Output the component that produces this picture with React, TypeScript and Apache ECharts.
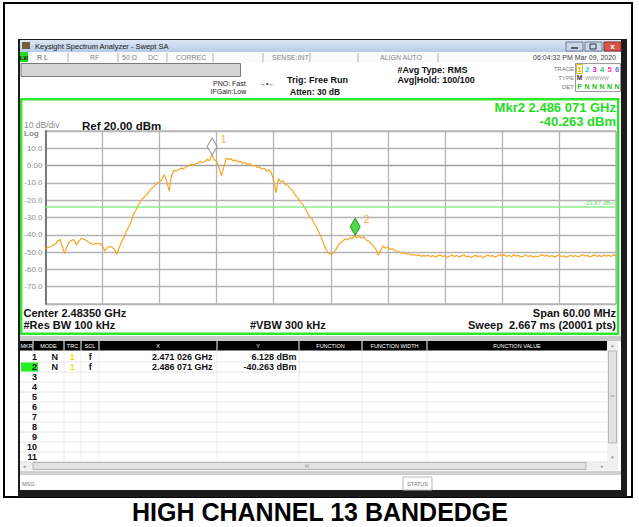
import React, { useEffect, useRef } from "react";
import * as echarts from "echarts";

// ---- data ----
const centerGHz = 2.4835;
const spanMHz = 60;
const startOffsetMHz = 0;
const sweepStepMHz = 0.25;
const refLevel = 20;
const bottomLevel = -80;
const yTickLabels = ["10.0", "0.00", "-10.0", "-20.0", "-30.0", "-40.0", "-50.0", "-60.0", "-70.0"];
const displayLine = -23.87;

// trace 1 level (dBm), one value every sweepStepMHz from the start frequency
const traceLevels = [
  -48.0, -47.4, -46.8, -46.2, -45.5, -44.0, -42.6, -46.5, -50.9, -47.0, -44.0, -43.2, -42.8, -45.8, -44.0, -42.0,
  -42.5, -43.2, -44.2, -44.8, -45.6, -45.0, -45.3, -45.0, -46.5, -49.4, -47.5, -46.8, -47.2, -48.5, -51.3, -47.5,
  -44.0, -41.5, -38.0, -35.5, -32.5, -28.0, -26.0, -22.5, -20.8, -19.0, -17.5, -16.0, -14.2, -12.8, -11.6, -10.0,
  -9.5, -7.8, -5.2, -9.0, -14.8, -6.0, -2.8, -3.0, -2.4, -1.5, -1.9, -0.8, -0.5, 0.8, 0.2, 1.0,
  1.2, 2.6, 1.8, 2.2, 3.6, 2.8, 6.1, 3.5, 2.5, -1.5, -5.8, -1.0, 4.4, 3.6, 4.0, 2.8,
  3.2, 2.0, 2.5, 1.2, 1.8, 0.6, 1.2, -0.2, 0.2, -1.0, -0.8, -2.0, -1.5, -3.2, -2.5, -4.0,
  -9.0, -15.7, -7.5, -9.5, -8.8, -11.0, -11.5, -13.5, -14.5, -17.0, -18.4, -20.5, -22.0, -24.2, -26.5, -29.5,
  -30.5, -33.5, -35.5, -38.5, -41.5, -45.0, -48.5, -50.5, -51.3, -50.6, -49.0, -46.5, -44.6, -43.8, -42.4, -43.0,
  -41.6, -42.2, -40.3, -41.8, -40.8, -42.0, -41.2, -43.0, -43.8, -45.0, -46.5, -48.5, -51.7, -49.0, -46.5, -47.8,
  -47.2, -48.4, -48.0, -49.2, -49.5, -50.0, -50.8, -50.4, -51.2, -51.0, -51.8, -51.4, -52.0, -51.6, -52.4, -52.0,
  -52.3, -51.8, -52.6, -52.0, -52.9, -52.2, -51.6, -52.5, -52.1, -53.0, -52.4, -51.7, -52.6, -52.0, -52.8, -52.2,
  -51.5, -52.7, -52.3, -53.1, -52.4, -51.9, -52.6, -52.1, -53.2, -52.5, -51.7, -52.4, -52.0, -52.9, -52.3, -51.4,
  -52.2, -51.6, -52.5, -51.8, -52.7, -51.5, -52.3, -51.9, -52.8, -52.4, -51.6, -52.6, -52.0, -53.0, -52.3, -52.7,
  -52.1, -51.6, -52.4, -51.8, -52.6, -52.0, -52.9, -52.3, -51.7, -52.5, -52.1, -53.0, -52.4, -51.8, -52.6, -52.0,
  -52.7, -52.2, -51.5, -52.3, -51.9, -52.8, -52.2, -51.6, -52.5, -51.9, -52.6, -51.7, -52.3, -51.8, -52.5, -51.6,
  -52.2,
];

const markerNames = ["1", "2"];
const markerFreqGHz = [2.471026, 2.486071];
const markerLevels = [6.128, -40.263];
const markerXText = ["2.471 026 GHz", "2.486 071 GHz"];
const markerYText = ["6.128 dBm", "-40.263 dBm"];
const tableRows = ["1", "2", "3", "4", "5", "6", "7", "8", "9", "10", "11"];

const F = '"Liberation Sans", Arial, sans-serif';

function txt(text: string, x: number, y: number, opts: any = {}) {
  const align = opts.align || "left";
  return {
    type: "text",
    z: opts.z ?? 20,
    style: {
      text,
      x,
      y,
      font: `${opts.bold ? "bold " : ""}${opts.size || 8}px ${F}`,
      fill: opts.color || "#000",
      align,
      textAlign: align,
      verticalAlign: "middle",
      textVerticalAlign: "middle",
    },
  };
}
function rect(x: number, y: number, w: number, h: number, fill: string, stroke?: string, lw = 1, z = 0) {
  return {
    type: "rect",
    z,
    shape: { x, y, width: w, height: h },
    style: { fill, stroke: stroke || "none", lineWidth: lw },
  };
}
function ln(x1: number, y1: number, x2: number, y2: number, stroke: string, lw = 1, z = 5) {
  return { type: "line", z, shape: { x1, y1, x2, y2 }, style: { stroke, lineWidth: lw } };
}

export default function App() {
  const ref = useRef<HTMLDivElement>(null);
  useEffect(() => {
    document.body.style.margin = "0";
    const chart = echarts.init(ref.current!, undefined, { renderer: "svg" });
    const startGHz = centerGHz - spanMHz / 2000;
    const traceData = traceLevels.map((v, i) => [startOffsetMHz + i * sweepStepMHz, v]);
    const markerData = markerFreqGHz.map((f, i) => [(f - startGHz) * 1000, markerLevels[i]]);

    const g: any[] = [];
    // outer document frame
    g.push(rect(4, 3, 628, 494, "#fff", "#000", 2, -30));
    // analyzer window
    g.push(rect(18, 39, 609, 458, "#1c1c1c", undefined, 1, -29));
    g.push({
      type: "rect",
      z: -28,
      shape: { x: 20, y: 40, width: 601, height: 12 },
      style: {
        fill: new echarts.graphic.LinearGradient(0, 0, 0, 1, [
          { offset: 0, color: "#dce7f5" },
          { offset: 1, color: "#b7cbe6" },
        ]),
      },
    });
    g.push(rect(22, 42, 8, 7, "#6f5f38", undefined, 1, -27));
    g.push(txt("Keysight Spectrum Analyzer - Swept SA", 35, 46.5, { size: 7.5, color: "#1a1a1a" }));
    g.push(rect(566, 42, 17, 9, "#c9d6e8", "#6e7f99", 1, -27));
    g.push(ln(571, 48, 578, 48, "#334", 1.5, 10));
    g.push(rect(585, 42, 17, 9, "#c9d6e8", "#6e7f99", 1, -27));
    g.push(rect(590, 44, 6, 5, "none", "#334", 1, 10));
    g.push(rect(604, 42, 17, 9, "#d9574a", "#8a2a20", 1, -27));
    g.push(txt("x", 612.5, 46, { size: 8, color: "#fff", align: "center", bold: true }));
    // status row
    g.push(rect(20, 52, 601, 11, "#fafafa", undefined, 1, -27));
    g.push(rect(20, 52, 8, 10, "#22dd22", undefined, 1, -26));
    g.push(txt("LXI", 24, 57.5, { size: 5, color: "#000", align: "center", bold: true }));
    [68, 118, 167, 213, 263, 310, 358, 438].forEach((x) => g.push(ln(x, 53, x, 62, "#b0b0b0", 1, -25)));
    g.push(txt("R L", 37, 57.5, { size: 7, color: "#666" }));
    g.push(txt("RF", 90, 57.5, { size: 7, color: "#888" }));
    g.push(txt("50 Ω", 122, 57.5, { size: 7, color: "#888" }));
    g.push(txt("DC", 148, 57.5, { size: 7, color: "#888" }));
    g.push(txt("CORREC", 176, 57.5, { size: 7, color: "#888" }));
    g.push(txt("SENSE:INT", 272, 57.5, { size: 7, color: "#888" }));
    g.push(txt("ALIGN AUTO", 380, 57.5, { size: 7, color: "#888" }));
    g.push(txt("06:04:32 PM Mar 09, 2020", 616, 57.5, { size: 7, color: "#444", align: "right" }));
    // settings area
    g.push(rect(20, 63, 601, 35, "#fff", undefined, 1, -27));
    g.push(rect(21, 63.5, 219.5, 13, "#d4d4d4", "#7a7a7a", 1, -26));
    g.push(txt("PNO: Fast", 213, 83.5, { size: 7, color: "#222" }));
    g.push(txt("IFGain:Low", 210.5, 91.8, { size: 7, color: "#222" }));
    g.push(txt("→•←", 259, 83, { size: 7, color: "#333" }));
    g.push(txt("Trig: Free Run", 287, 80, { size: 9, bold: true, color: "#111" }));
    g.push(txt("Atten: 30 dB", 290, 91.5, { size: 8.5, bold: true, color: "#111" }));
    g.push(txt("#Avg Type: RMS", 397.5, 70, { size: 9, bold: true, color: "#111" }));
    g.push(txt("Avg|Hold: 100/100", 397.5, 80, { size: 9, bold: true, color: "#111" }));
    g.push(txt("TRACE", 574, 69.3, { size: 6, color: "#777", align: "right" }));
    g.push(txt("TYPE", 574, 77.8, { size: 6, color: "#777", align: "right" }));
    g.push(txt("DET", 574, 86.7, { size: 6, color: "#777", align: "right" }));
    g.push(rect(575.5, 63.5, 45, 28, "#fff", "#999", 1, -26));
    g.push(rect(576.5, 64.5, 6, 9, "#fff", "#e0c000", 1, -25));
    const tcol = ["#e0b800", "#20c8e8", "#e020e0", "#30c870", "#ff4090", "#7a5cff"];
    ["1", "2", "3", "4", "5", "6"].forEach((s, i) =>
      g.push(txt(s, 579.5 + i * 7.5, 69.3, { size: 7.5, color: tcol[i], align: "center", bold: true }))
    );
    g.push(txt("M", 579.5, 77.8, { size: 6.5, color: "#333", align: "center", bold: true }));
    g.push(txt("WWWWW", 585, 77.8, { size: 5, color: "#999" }));
    g.push(txt("P", 579.5, 86.7, { size: 7, color: "#22bb22", align: "center", bold: true }));
    ["N", "N", "N", "N", "N"].forEach((s, i) =>
      g.push(txt(s, 587 + i * 7.5, 86.7, { size: 7, color: "#22bb22", align: "center", bold: true }))
    );
    // plot panel
    g.push(rect(20, 98, 601, 238, "#fff", undefined, 1, -27));
    g.push(rect(21.2, 99.2, 597, 234.5, "#fff", "#2ee82e", 2.4, -26));
    g.push(txt("Mkr2 2.486 071 GHz", 616, 107.5, { size: 13, bold: true, color: "#22dd22", align: "right" }));
    g.push(txt("-40.263 dBm", 616, 121.5, { size: 13, bold: true, color: "#22dd22", align: "right" }));
    g.push(txt("10 dB/div", 24, 125, { size: 8.5, color: "#8a8a8a" }));
    g.push(txt("Log", 24, 133.5, { size: 8, color: "#8a8a8a", bold: true }));
    g.push(txt("Ref 20.00 dBm", 82, 125.5, { size: 11.5, bold: true, color: "#111" }));
    g.push(txt("Center 2.48350 GHz", 23.5, 312.5, { size: 11, bold: true, color: "#111" }));
    g.push(txt("#Res BW 100 kHz", 23.5, 324.5, { size: 11, bold: true, color: "#111" }));
    g.push(txt("#VBW 300 kHz", 250, 324.5, { size: 11, bold: true, color: "#111" }));
    g.push(txt("Span 60.00 MHz", 616, 312.5, { size: 11, bold: true, color: "#111", align: "right" }));
    g.push(txt("Sweep  2.667 ms (20001 pts)", 616, 324.5, { size: 11, bold: true, color: "#111", align: "right" }));
    // table
    g.push(rect(20, 336, 601, 5, "#c8c8c8", undefined, 1, -27));
    g.push(rect(20, 341, 601, 130, "#fff", undefined, 1, -27));
    g.push(rect(20, 341, 587, 9.5, "#000", undefined, 1, -26));
    [33, 64, 81, 99, 217, 299, 362, 427].forEach((x) => g.push(ln(x, 341, x, 350.5, "#fff", 1, -25)));
    [33, 64, 81, 99, 217, 299, 362, 427].forEach((x) => g.push(ln(x, 351, x, 461, "#ececec", 1, -25)));
    const heads: [string, number][] = [
      ["MKR", 26.5], ["MODE", 48.5], ["TRC", 72.5], ["SCL", 90], ["X", 158], ["Y", 258],
      ["FUNCTION", 330.5], ["FUNCTION WIDTH", 394.5], ["FUNCTION VALUE", 517],
    ];
    heads.forEach(([s, x]) => g.push(txt(s, x, 346, { size: 5.5, color: "#fff", align: "center" })));
    tableRows.forEach((s, i) => {
      const y = 357 + i * 10;
      g.push(ln(20, y + 5, 607, y + 5, "#e6e6e6", 1, -25));
      if (i === 1) g.push(rect(21, y - 4.5, 17, 9, "#22ee22", undefined, 1, -24));
      g.push(txt(s, 37, y, { size: 9, bold: true, color: "#111", align: "right" }));
    });
    markerNames.forEach((_, i) => {
      const y = 357 + i * 10;
      g.push(txt("N", 54.7, y, { size: 9, bold: true, color: "#111", align: "center" }));
      g.push(txt("1", 72.3, y, { size: 9, bold: true, color: "#f0e020", align: "center" }));
      g.push(txt("f", 90.3, y, { size: 9, bold: true, color: "#111", align: "center" }));
      g.push(txt(markerXText[i], 212.5, y, { size: 9, bold: true, color: "#111", align: "right" }));
      g.push(txt(markerYText[i], 296.5, y, { size: 9, bold: true, color: "#111", align: "right" }));
    });
    // vertical scrollbar
    g.push(rect(607, 341, 11, 121, "#f0f0f0", undefined, 1, -26));
    g.push(rect(608.5, 351, 8, 92, "#e2e2e2", "#b5b5b5", 1, -25));
    g.push(txt("▴", 612.5, 345, { size: 5, color: "#888", align: "center" }));
    g.push(txt("▾", 612.5, 457, { size: 5, color: "#888", align: "center" }));
    g.push(ln(610.5, 396, 614.5, 396, "#999", 1, 10));
    // horizontal scrollbar
    g.push(rect(20, 461.5, 598, 9, "#f0f0f0", undefined, 1, -26));
    g.push(rect(33, 462.5, 553, 7, "#e2e2e2", "#b5b5b5", 1, -25));
    g.push(txt("◂", 24, 466, { size: 5, color: "#888", align: "center" }));
    g.push(txt("▸", 602, 466, { size: 5, color: "#888", align: "center" }));
    g.push(ln(306, 464.5, 306, 467.5, "#999", 1, 10));
    g.push(ln(308, 464.5, 308, 467.5, "#999", 1, 10));
    // message row
    g.push(rect(20, 471, 601, 4, "#d0d0d0", undefined, 1, -27));
    g.push(rect(20, 475, 601, 15, "#fff", undefined, 1, -27));
    g.push(txt("MSG", 22, 483.5, { size: 5.5, color: "#777" }));
    g.push(rect(403, 477, 29, 13, "#fff", "#bbb", 1, -26));
    g.push(txt("STATUS", 417.5, 483.5, { size: 5.5, color: "#777", align: "center" }));
    // caption
    g.push(txt("HIGH CHANNEL 13 BANDEDGE", 320, 512, { size: 25, bold: true, color: "#000", align: "center" }));

    chart.setOption({
      animation: false,
      backgroundColor: "transparent",
      grid: { left: 45.5, top: 131, width: 570.5, height: 173, show: true, borderColor: "#9a9a9a", borderWidth: 1 },
      xAxis: {
        type: "value",
        min: 0,
        max: spanMHz,
        interval: spanMHz / 10,
        axisLabel: { show: false },
        axisTick: { show: false },
        axisLine: { show: true, lineStyle: { color: "#9a9a9a", width: 1 } },
        splitLine: { show: true, lineStyle: { color: "#b4b4b4", width: 1.3 } },
      },
      yAxis: {
        type: "value",
        min: bottomLevel,
        max: refLevel,
        interval: 10,
        axisTick: { show: false },
        axisLine: { show: true, lineStyle: { color: "#7a7a7a", width: 2 } },
        splitLine: { show: true, lineStyle: { color: "#b4b4b4", width: 1.3 } },
        axisLabel: {
          margin: 3,
          fontSize: 8,
          fontFamily: F,
          color: "#8f8f8f",
          formatter: (v: number) => {
            const idx = Math.round((10 - v) / 10);
            return idx >= 0 && idx < yTickLabels.length ? yTickLabels[idx] : "";
          },
        },
      },
      series: [
        {
          type: "line",
          data: traceData,
          showSymbol: false,
          symbol: "none",
          lineStyle: { color: "#f5a623", width: 1.2 },
          z: 3,
          markLine: {
            silent: true,
            symbol: "none",
            data: [{ yAxis: displayLine }],
            lineStyle: { color: "#8ded8d", width: 1.5, type: "solid" },
            label: {
              show: true,
              position: "insideEndTop",
              formatter: "-23.87 dBm",
              fontSize: 6,
              color: "#66dd66",
              fontFamily: F,
              distance: 1,
            },
          },
        },
        {
          type: "scatter",
          z: 5,
          data: [
            {
              value: markerData[0],
              symbol: "diamond",
              symbolSize: [10, 17],
              symbolOffset: [0, -8.5],
              itemStyle: { color: "#ffffff", borderColor: "#777", borderWidth: 1 },
              label: { show: true, formatter: markerNames[0], position: "right", offset: [-2, -7], color: "#f0a020", fontSize: 11, fontFamily: F },
            },
            {
              value: markerData[1],
              symbol: "diamond",
              symbolSize: [10, 17],
              symbolOffset: [0, -8.5],
              itemStyle: { color: "#22d022", borderColor: "#118811", borderWidth: 1 },
              label: { show: true, formatter: markerNames[1], position: "right", offset: [-2, -8], color: "#f0a020", fontSize: 11, fontFamily: F },
            },
          ],
        },
      ],
      graphic: { elements: g },
    });
    return () => chart.dispose();
  }, []);
  return <div ref={ref} style={{ width: 639, height: 527 }} />;
}
